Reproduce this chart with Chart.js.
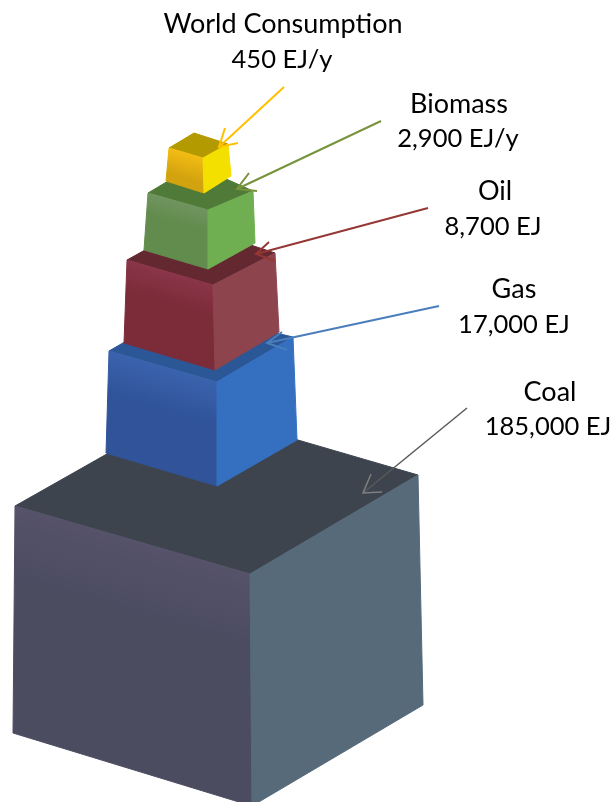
<!DOCTYPE html>
<html>
<head>
<meta charset="utf-8">
<style>html,body{margin:0;padding:0;background:#fff}#wrap{width:610px;height:802px}canvas{display:block}</style>
<script src="https://cdn.jsdelivr.net/npm/chart.js@4"></script>
</head>
<body>
<div id="wrap"><canvas id="c"></canvas></div>
<script>
// Reserves
const categories = ["World Consumption", "Biomass", "Oil", "Gas", "Coal"];
const valueLabels = ["450 EJ/y", "2,900 EJ/y", "8,700 EJ", "17,000 EJ", "185,000 EJ"];
const labelX = [283, 459, 495, 514, 550];
const labelY = [24, 104, 191, 289, 392];
const valueX = [282, 458, 493, 514, 548];
const valueY = [60, 139, 227, 325, 427];

// Cube faces [x, y] in image units
const coalTop   = [[15,506],[188,408],[418,475],[250,574]];
const coalLeft  = [[15,506],[250,574],[252,806],[13,733]];
const coalRight = [[250,574],[418,475],[423,705],[252,806]];
const gasTop    = [[109,351],[180,310],[293,337],[217,382]];
const gasLeft   = [[109,351],[217,382],[217,486],[106,453]];
const gasRight  = [[217,382],[293,337],[297,440],[217,486]];
const oilTop    = [[127,260],[190,225],[275,253],[213,285]];
const oilLeft   = [[127,260],[213,285],[215,370],[124,343]];
const oilRight  = [[213,285],[275,253],[279,332],[215,370]];
const bioTop    = [[148,193],[195,165],[253,191],[208,210]];
const bioLeft   = [[148,193],[208,210],[208,269],[144,250]];
const bioRight  = [[208,210],[253,191],[255,243],[208,269]];
const worldTop  = [[169,148],[194,133],[228,144],[203,158]];
const worldLeft = [[169,148],[203,158],[204,193],[166,181]];
const worldRight= [[203,158],[228,144],[231,176],[204,193]];

// Leader arrows: shaft, then head
const worldShaft = [[284,87],[219,147]];
const worldHead  = [[225,128],[219,147],[238,143]];
const bioShaft   = [[381,121],[237,189]];
const bioHead    = [[249,173],[237,189],[257,191]];
const oilShaft   = [[428,208],[256,254]];
const oilHead    = [[269,242],[256,254],[275,261]];
const gasShaft   = [[439,306],[267,343]];
const gasHead    = [[282,332],[267,343],[287,350]];
const coalShaft  = [[467,408],[363,493]];
const coalHead   = [[371,474],[363,493],[382,492]];

const pts = a => a.map(p => ({x:p[0], y:p[1]}));
const closed = a => pts(a.concat([a[0]]));

// Shading runs square to the face's top edge, so the light band follows that edge.
function edgeGrad(face, c0, c1, reach) {
  return ctx => {
    const ch = ctx.chart;
    const sx = ch.scales && ch.scales.x, sy = ch.scales && ch.scales.y;
    if (!sx || !sy) return c1;
    const ax = sx.getPixelForValue(face[0][0]), ay = sy.getPixelForValue(face[0][1]);
    const bx = sx.getPixelForValue(face[1][0]), by = sy.getPixelForValue(face[1][1]);
    const cy = sy.getPixelForValue(face[2][1]);
    if (![ax, ay, bx, by, cy].every(isFinite)) return c1;
    const dx = bx - ax, dy = by - ay, len = Math.hypot(dx, dy);
    const nx = -dy / len, ny = dx / len, h = (cy - by) * reach;
    const g = ch.ctx.createLinearGradient(ax, ay, ax + nx * h, ay + ny * h);
    g.addColorStop(0, c0); g.addColorStop(1, c1);
    return g;
  };
}
const face = (data, fill) => ({data: closed(data), fill:'shape', backgroundColor: fill, borderColor: fill, borderWidth: 1, pointRadius: 0, showLine: true, tension: 0});
const line = (data, color, w) => ({data: pts(data), fill:false, borderColor: color, borderWidth: w, pointRadius: 0, showLine: true, tension: 0});

const layers = [
  face(coalTop,'#3d444e'), face(coalLeft, edgeGrad(coalLeft,'#55526a','#4c4c61',0.3)), face(coalRight,'#566a7a'),
  face(gasTop,'#2b5797'), face(gasLeft, edgeGrad(gasLeft,'#3a63ad','#30539a',0.4)), face(gasRight,'#3570c0'),
  face(oilTop,'#642830'), face(oilLeft, edgeGrad(oilLeft,'#8a3549','#7c2b39',0.35)), face(oilRight,'#8d444d'),
  face(bioTop,'#507a38'), face(bioLeft, edgeGrad(bioLeft,'#71945f','#628b4e',0.35)), face(bioRight,'#70ae52'),
  face(worldTop,'#b39a00'), face(worldLeft, edgeGrad(worldLeft,'#f2bc13','#d2a30e',0.7)), face(worldRight,'#f3e000'),
  line(worldShaft,'#ffc000',2), line(worldHead,'#ffc000',2),
  line(bioShaft,'#77933c',2), line(bioHead,'#77933c',2),
  line(oilShaft,'#953735',2), line(oilHead,'#953735',2),
  line(gasShaft,'#4a7ebb',2), line(gasHead,'#4a7ebb',2),
  line(coalShaft,'#595959',1.5), line(coalHead,'#7f7f7f',1.5)
];
layers.forEach((d,i) => { d.order = layers.length - i; });

// Softens the cubes and arrows like the scaled-up original; text is drawn afterwards.
const softenPlugin = {
  id: 'soften',
  afterDatasetsDraw(chart) {
    const {ctx, canvas} = chart;
    const copy = document.createElement('canvas');
    copy.width = canvas.width; copy.height = canvas.height;
    copy.getContext('2d').drawImage(canvas, 0, 0);
    ctx.save();
    ctx.setTransform(1, 0, 0, 1, 0, 0);
    ctx.clearRect(0, 0, canvas.width, canvas.height);
    ctx.filter = 'blur(0.7px)';
    ctx.drawImage(copy, 0, 0);
    ctx.restore();
  }
};

const textPlugin = {
  id: 'labels',
  afterDraw(chart) {
    const {ctx, scales:{x,y}} = chart;
    ctx.save();
    ctx.fillStyle = '#000';
    ctx.textAlign = 'center';
    ctx.textBaseline = 'middle';
    categories.forEach((c,i) => {
      ctx.font = '27px Lato, Carlito, sans-serif';
      ctx.fillText(c, x.getPixelForValue(labelX[i]), y.getPixelForValue(labelY[i]));
      ctx.font = '25.5px Lato, Carlito, sans-serif';
      ctx.fillText(valueLabels[i], x.getPixelForValue(valueX[i]), y.getPixelForValue(valueY[i]));
    });
    ctx.restore();
  }
};

new Chart(document.getElementById('c'), {
  type: 'scatter',
  data: {datasets: layers},
  plugins: [softenPlugin, textPlugin],
  options: {
    responsive: true, maintainAspectRatio: false, animation: false,
    layout: {padding: 0},
    plugins: {legend:{display:false}, tooltip:{enabled:false}},
    scales: {
      x: {type:'linear', min:0, max:610, display:false},
      y: {type:'linear', min:0, max:802, reverse:true, display:false}
    }
  }
});
</script>
</body>
</html>
